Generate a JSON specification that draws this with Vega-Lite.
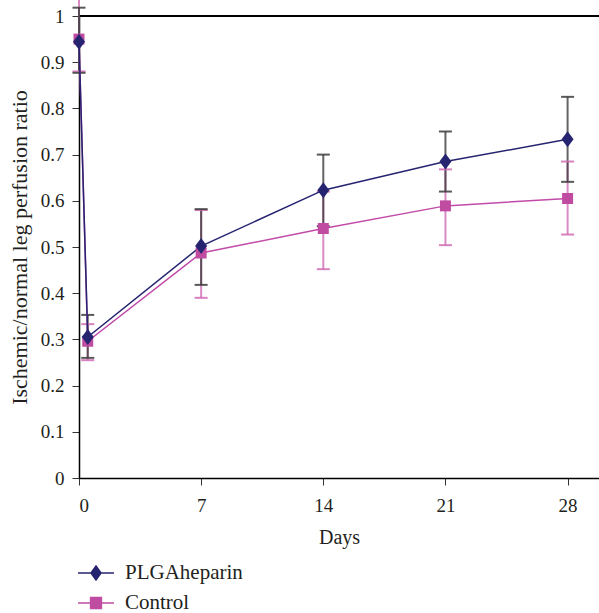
{
  "$schema": "https://vega.github.io/schema/vega-lite/v6.json",
  "width": 520,
  "height": 462,
  "autosize": "none",
  "padding": {"left": 79, "top": 16, "right": 0, "bottom": 135},
  "background": "white",
  "config": {
    "view": {"stroke": null},
    "font": "Liberation Serif",
    "axis": {"labelFont": "Liberation Serif", "titleFont": "Liberation Serif", "labelFontSize": 19, "titleFontSize": 20, "titleFontWeight": "normal", "labelColor": "#231f20", "titleColor": "#231f20", "domainColor": "#000", "tickColor": "#333", "grid": false, "tickSize": 7, "domainWidth": 1.5},
    "legend": {"labelFont": "Liberation Serif", "labelFontSize": 21, "labelColor": "#231f20"}
  },
  "data": {
    "values": [
      {"day": 0, "series": "Control", "value": 0.95, "lo": 0.88, "hi": 1.05},
      {"day": 0.5, "series": "Control", "value": 0.296, "lo": 0.255, "hi": 0.333},
      {"day": 7, "series": "Control", "value": 0.487, "lo": 0.39, "hi": 0.58},
      {"day": 14, "series": "Control", "value": 0.54, "lo": 0.452, "hi": 0.62},
      {"day": 21, "series": "Control", "value": 0.589, "lo": 0.504, "hi": 0.668},
      {"day": 28, "series": "Control", "value": 0.605, "lo": 0.527, "hi": 0.685},
      {"day": 0, "series": "PLGAheparin", "value": 0.944, "lo": 0.877, "hi": 1.018},
      {"day": 0.5, "series": "PLGAheparin", "value": 0.305, "lo": 0.26, "hi": 0.353},
      {"day": 7, "series": "PLGAheparin", "value": 0.502, "lo": 0.418, "hi": 0.582},
      {"day": 14, "series": "PLGAheparin", "value": 0.623, "lo": 0.545, "hi": 0.70},
      {"day": 21, "series": "PLGAheparin", "value": 0.685, "lo": 0.62, "hi": 0.75},
      {"day": 28, "series": "PLGAheparin", "value": 0.733, "lo": 0.641, "hi": 0.825}
    ]
  },
  "encoding": {
    "x": {"field": "day", "type": "quantitative", "title": "Days",
      "scale": {"domain": [0, 29.8], "nice": false},
      "axis": {"values": [0, 7, 14, 21, 28], "labelPadding": 11, "titlePadding": 12}},
    "y": {"type": "quantitative", "title": "Ischemic/normal leg perfusion ratio", "scale": {"domain": [0, 1], "nice": false},
      "axis": {"values": [0, 0.1, 0.2, 0.3, 0.4, 0.5, 0.6, 0.7, 0.8, 0.9, 1], "format": ".1~f", "labelPadding": 8, "titlePadding": 9, "titleFontSize": 22}}
  },
  "layer": [
    {
      "mark": {"type": "rule", "color": "#000", "strokeWidth": 1.2},
      "encoding": {"y": {"datum": 1, "type": "quantitative"}, "x": null}
    },
    {
      "mark": {"type": "rule", "strokeWidth": 2, "opacity": 0.8, "clip": false},
      "encoding": {
        "y": {"field": "lo"}, "y2": {"field": "hi"},
        "stroke": {"condition": {"test": "datum.series === 'Control'", "value": "#d06cb4"}, "value": "#3c3c3c"}
      }
    },
    {
      "mark": {"type": "tick", "orient": "horizontal", "thickness": 2, "size": 13, "opacity": 0.85, "clip": false},
      "encoding": {
        "y": {"field": "hi"},
        "color": {"condition": {"test": "datum.series === 'Control'", "value": "#d06cb4"}, "value": "#3c3c3c"}
      }
    },
    {
      "mark": {"type": "tick", "orient": "horizontal", "thickness": 2, "size": 13, "opacity": 0.85},
      "encoding": {
        "y": {"field": "lo"},
        "color": {"condition": {"test": "datum.series === 'Control'", "value": "#d06cb4"}, "value": "#3c3c3c"}
      }
    },
    {
      "mark": {"type": "line", "strokeWidth": 1.5, "clip": false},
      "encoding": {
        "y": {"field": "value"},
        "detail": {"field": "series"},
        "stroke": {"condition": {"test": "datum.series === 'Control'", "value": "#c24aa8"}, "value": "#262470"}
      }
    },
    {
      "mark": {"type": "point", "filled": true, "opacity": 1, "strokeWidth": 0},
      "encoding": {
        "y": {"field": "value"},
        "shape": {"condition": {"test": "datum.series === 'Control'", "value": "square"}, "value": "M0,-1L0.75,0L0,1L-0.75,0Z"},
        "size": {"condition": {"test": "datum.series === 'Control'", "value": 121}, "value": 256},
        "fill": {"condition": {"test": "datum.series === 'Control'", "value": "#c04ca2"}, "value": "#262470"}
      }
    },
    {
      "mark": {"type": "point", "filled": true, "opacity": 0},
      "encoding": {
        "y": {"field": "value"},
        "shape": {"field": "series", "type": "nominal",
          "scale": {"domain": ["PLGAheparin", "Control"], "range": ["M-1,0H1M0,-0.39L0.28,0L0,0.39L-0.28,0Z", "M-1,0H1M-0.3,-0.3H0.3V0.3H-0.3Z"]},
          "legend": {"title": null, "orient": "none", "legendX": -2, "legendY": 538, "symbolSize": 1296, "symbolStrokeWidth": 1.5, "symbolOpacity": 1, "rowPadding": -12, "labelOffset": 10, "labelFont": "Liberation Serif", "labelFontSize": 21,
            "encode": {"symbols": {"update": {"fill": {"scale": "fill", "field": "value"}, "stroke": {"scale": "stroke", "field": "value"}, "opacity": {"value": 1}}}}}},
        "fill": {"field": "series", "type": "nominal",
          "scale": {"domain": ["PLGAheparin", "Control"], "range": ["#262470", "#c04ca2"]}, "legend": null},
        "stroke": {"field": "series", "type": "nominal",
          "scale": {"domain": ["PLGAheparin", "Control"], "range": ["#262470", "#c04ca2"]}, "legend": null}
      }
    }
  ]
}
